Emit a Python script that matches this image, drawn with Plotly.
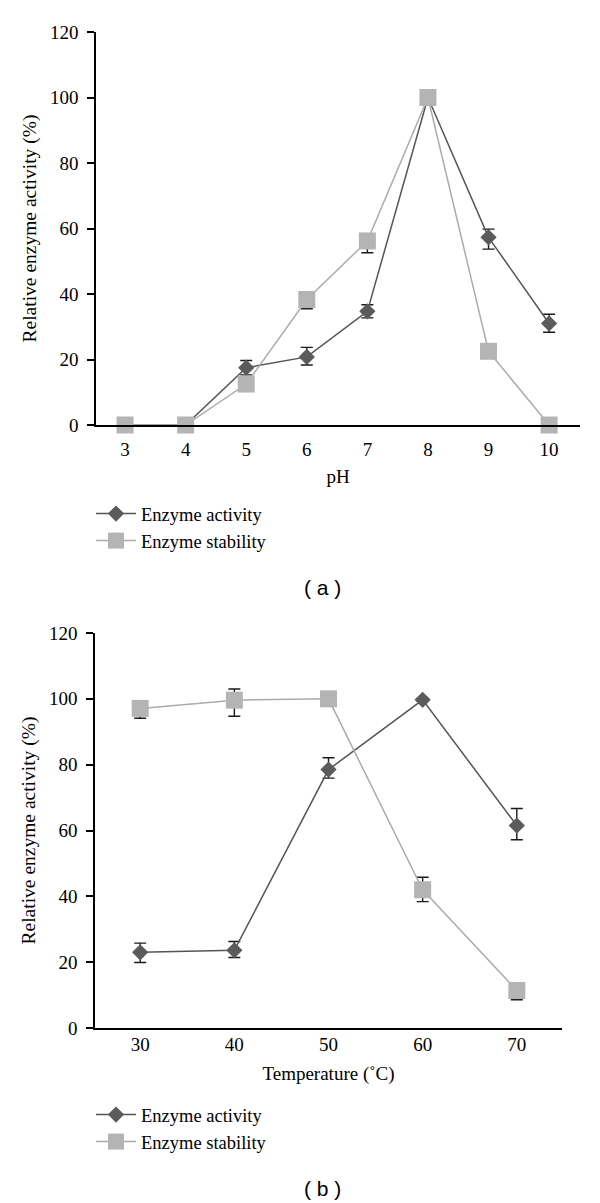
import plotly.graph_objects as go

# ---- data (a): pH ----
ph = [3, 4, 5, 6, 7, 8, 9, 10]
ph_activity = [0, 0, 17.5, 20.8, 34.7, 100, 57.3, 31.0]
ph_activity_err_up = [0, 0, 2.2, 2.9, 2.0, 0.4, 2.5, 2.8]
ph_activity_err_down = [0, 0, 2.2, 2.5, 2.0, 0.4, 3.6, 2.7]
ph_stability = [0, 0, 12.5, 38.3, 56.2, 100, 22.5, 0]
ph_stability_err_up = [0, 0, 0, 2.2, 2.0, 0, 0, 0]
ph_stability_err_down = [0, 0, 0, 2.8, 3.6, 0, 0, 0]

# ---- data (b): temperature ----
temp = [30, 40, 50, 60, 70]
temp_activity = [23.0, 23.6, 78.5, 99.7, 61.5]
temp_activity_err_up = [2.8, 2.7, 3.6, 0.4, 5.2]
temp_activity_err_down = [3.1, 2.2, 2.6, 0.4, 4.3]
temp_stability = [97.1, 99.6, 100, 42.0, 11.4]
temp_stability_err_up = [2.0, 3.4, 0, 3.8, 2.0]
temp_stability_err_down = [3.0, 4.9, 0, 3.6, 2.8]

y_ticks = [0, 20, 40, 60, 80, 100, 120]
ph_ticks = [3, 4, 5, 6, 7, 8, 9, 10]
temp_ticks = [30, 40, 50, 60, 70]

ACT_COLOR = "#5b5b5b"
STAB_COLOR = "#b4b4b4"
ACT_LINE = "#555555"
STAB_LINE = "#ababab"
ERR_COLOR = "#1a1a1a"
SERIF = "Liberation Serif"
FS = 19

# the page body has an 8px margin; size the figure to fit the window
OFF = 8
W, H = 600 - OFF, 1203 - OFF


def px(s):
    return (s - OFF) / W


def py(s):
    return 1 - (s - OFF) / H


def err_trace(x, y, up, down, xa, ya):
    # error bars only (drawn beneath the markers)
    return go.Scatter(
        x=x, y=y, mode="markers", showlegend=False, hoverinfo="skip",
        xaxis=xa, yaxis=ya, cliponaxis=False,
        marker=dict(size=1, color="rgba(0,0,0,0)"),
        error_y=dict(type="data", array=up, arrayminus=down, symmetric=False,
                     visible=True, color=ERR_COLOR, thickness=1.4, width=6),
    )


def add_pair(fig, x, act, act_up, act_dn, stab, stab_up, stab_dn,
             xa, ya, legend):
    fig.add_trace(err_trace(x, act, act_up, act_dn, xa, ya))
    fig.add_trace(go.Scatter(
        x=x, y=act, mode="lines+markers", name="Enzyme activity",
        xaxis=xa, yaxis=ya, legend=legend, cliponaxis=False,
        line=dict(color=ACT_LINE, width=1.5),
        marker=dict(symbol="diamond", size=12.5, color=ACT_COLOR,
                    line=dict(width=0)),
    ))
    fig.add_trace(err_trace(x, stab, stab_up, stab_dn, xa, ya))
    fig.add_trace(go.Scatter(
        x=x, y=stab, mode="lines+markers", name="Enzyme stability",
        xaxis=xa, yaxis=ya, legend=legend, cliponaxis=False,
        line=dict(color=STAB_LINE, width=1.5),
        marker=dict(symbol="square", size=17, color=STAB_COLOR,
                    line=dict(width=0)),
    ))


fig = go.Figure()
add_pair(fig, ph, ph_activity, ph_activity_err_up, ph_activity_err_down,
         ph_stability, ph_stability_err_up, ph_stability_err_down,
         "x", "y", "legend")
add_pair(fig, temp, temp_activity, temp_activity_err_up,
         temp_activity_err_down, temp_stability, temp_stability_err_up,
         temp_stability_err_down, "x2", "y2", "legend2")

axis_common = dict(
    showline=True, linecolor="black", linewidth=1.5, showgrid=False,
    zeroline=False, automargin=False,
    tickfont=dict(family=SERIF, size=FS, color="black"),
)

xtitle_font = dict(family=SERIF, size=FS, color="black")
ytitle_font = dict(family=SERIF, size=19.5, color="black")

fig.update_layout(
    width=W, height=H, margin=dict(l=0, r=0, t=0, b=0, autoexpand=False),
    plot_bgcolor="white", paper_bgcolor="white",
    font=dict(family=SERIF, size=FS, color="black"),
    xaxis=dict(domain=[px(96), px(580)], range=[2.52, 10.51],
               tickvals=ph_ticks, ticks="", ticklabelstandoff=6,
               anchor="y",
               title=dict(text="pH", standoff=11, font=xtitle_font),
               **axis_common),
    yaxis=dict(domain=[py(425), py(32)], range=[0, 120],
               tickvals=y_ticks, ticks="outside", ticklen=7, tickwidth=1.5,
               tickcolor="black", ticklabelstandoff=5, anchor="x",
               title=dict(text="Relative enzyme activity (%)", standoff=8,
                          font=ytitle_font),
               **axis_common),
    xaxis2=dict(domain=[px(95), px(562)], range=[25.2, 74.8],
                tickvals=temp_ticks, ticks="", ticklabelstandoff=-2,
                anchor="y2",
                title=dict(text="Temperature (˚C)", standoff=13,
                           font=xtitle_font),
                **axis_common),
    yaxis2=dict(domain=[py(1028), py(633)], range=[0, 120],
                tickvals=y_ticks, ticks="outside", ticklen=7, tickwidth=1.5,
                tickcolor="black", ticklabelstandoff=5, anchor="x2",
                title=dict(text="Relative enzyme activity (%)", standoff=8,
                           font=ytitle_font),
                **axis_common),
    legend=dict(x=px(91), y=py(495), xanchor="left", yanchor="top",
                bgcolor="rgba(0,0,0,0)", font=dict(family=SERIF, size=18.5),
                tracegroupgap=0, itemwidth=40),
    legend2=dict(x=px(91), y=py(1096), xanchor="left", yanchor="top",
                 bgcolor="rgba(0,0,0,0)", font=dict(family=SERIF, size=18.5),
                 tracegroupgap=0, itemwidth=40),
    annotations=[
        dict(text="( a )", x=px(322), y=py(588), xref="paper", yref="paper",
             xanchor="center", yanchor="middle", showarrow=False,
             font=dict(family="Liberation Sans", size=21, color="black")),
        dict(text="( b )", x=px(322), y=py(1188), xref="paper", yref="paper",
             xanchor="center", yanchor="middle", showarrow=False,
             font=dict(family="Liberation Sans", size=21, color="black")),
    ],
)

fig.write_html("out.html")
